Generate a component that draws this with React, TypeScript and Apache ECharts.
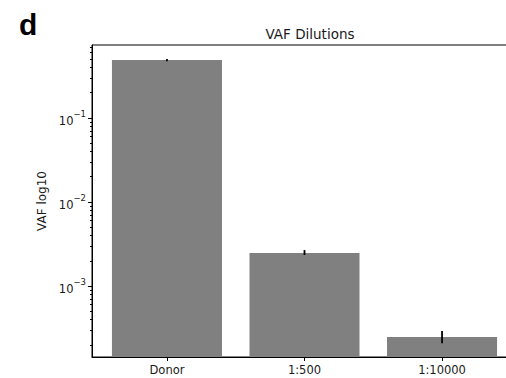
import React, { useEffect, useRef } from 'react';
import * as echarts from 'echarts';

const categories = ['Donor', '1:500', '1:10000'];
const vafValues = [0.49, 0.00247, 0.000247];
const errLow = [0.475, 0.00234, 0.000209];
const errHigh = [0.505, 0.00268, 0.000291];
const xTickValues = [0, 1, 2];
const yMajorTicks = [1e-3, 1e-2, 1e-1];
const yMinorTicks = [
  2e-4, 3e-4, 4e-4, 5e-4, 6e-4, 7e-4, 8e-4, 9e-4,
  2e-3, 3e-3, 4e-3, 5e-3, 6e-3, 7e-3, 8e-3, 9e-3,
  2e-2, 3e-2, 4e-2, 5e-2, 6e-2, 7e-2, 8e-2, 9e-2,
  2e-1, 3e-1, 4e-1, 5e-1, 6e-1, 7e-1,
];
const yMin = 1.43e-4;
const yMax = 0.74;
const xMin = -0.545;
const xMax = 2.545;
const barWidthUnits = 0.8;

const powLabel = (v: number) => {
  const e = Math.round(Math.log10(v));
  return '{b|10}{s|' + (e < 0 ? '\u2212' : '') + Math.abs(e) + '}';
};

const FONT = 'DejaVu Sans';
const TXT = '#1a1a1a';

export default function App() {
  const ref = useRef<HTMLDivElement>(null);
  useEffect(() => {
    if (!ref.current) return;
    const chart = echarts.init(ref.current, null, { renderer: 'svg' });
    chart.setOption({
      animation: false,
      backgroundColor: '#fff',
      title: [
        {
          text: 'VAF Dilutions',
          left: 305,
          top: 22,
          textAlign: 'center',
          textStyle: { fontFamily: FONT, fontSize: 13.5, fontWeight: 'normal', color: TXT },
        },
        {
          text: 'd',
          left: 14,
          top: 4,
          textStyle: { fontFamily: 'Liberation Sans', fontSize: 30, fontWeight: 'bold', color: '#000' },
        },
      ],
      grid: {
        left: 92,
        top: 45,
        width: 425,
        height: 312,
        outerBoundsMode: 'none',
        containLabel: false,
        show: true,
        borderColor: '#000',
        borderWidth: 1,
        backgroundColor: 'transparent',
      },
      xAxis: {
        type: 'value',
        min: xMin,
        max: xMax,
        splitLine: { show: false },
        axisLine: { show: true, onZero: false, lineStyle: { color: '#000', width: 1 } },
        axisTick: { show: true, customValues: xTickValues, length: 4, lineStyle: { color: '#000' } },
        axisLabel: {
          show: true,
          customValues: xTickValues,
          formatter: (v: number) => categories[Math.round(v)] ?? '',
          fontFamily: FONT,
          fontSize: 11.5,
          color: TXT,
          margin: 7,
        },
      },
      yAxis: [
        {
          type: 'log',
          logBase: 10,
          min: yMin,
          max: yMax,
          position: 'left',
          name: 'VAF log10',
          nameLocation: 'middle',
          nameRotate: 90,
          nameGap: 44,
          nameTextStyle: { fontFamily: FONT, fontSize: 12, color: TXT },
          splitLine: { show: false },
          axisLine: { show: true, onZero: false, lineStyle: { color: '#000', width: 1 } },
          axisTick: { show: true, customValues: yMajorTicks, length: 4, lineStyle: { color: '#000' } },
          axisLabel: {
            show: true,
            customValues: yMajorTicks,
            formatter: (v: number) => powLabel(v),
            fontFamily: FONT,
            color: TXT,
            margin: 6,
            rich: {
              b: { fontFamily: FONT, fontSize: 11.5, color: TXT, verticalAlign: 'bottom', lineHeight: 17 },
              s: { fontFamily: FONT, fontSize: 8.5, color: TXT, verticalAlign: 'top', lineHeight: 17 },
            },
          },
        },
        {
          type: 'log',
          logBase: 10,
          min: yMin,
          max: yMax,
          position: 'left',
          splitLine: { show: false },
          axisLine: { show: false, onZero: false },
          axisTick: { show: true, customValues: yMinorTicks, length: 2, lineStyle: { color: '#000' } },
          axisLabel: { show: false },
        },
      ],
      series: [
        {
          type: 'custom',
          yAxisIndex: 0,
          clip: true,
          data: vafValues.map((v, i) => [xTickValues[i], v]),
          encode: { x: 0, y: 1 },
          renderItem: (params: any, api: any) => {
            const x = api.value(0);
            const v = api.value(1);
            const pA = api.coord([x - barWidthUnits / 2, v]);
            const pB = api.coord([x + barWidthUnits / 2, yMin]);
            return {
              type: 'rect',
              shape: { x: pA[0], y: pA[1], width: pB[0] - pA[0], height: pB[1] - pA[1] },
              style: { fill: '#808080' },
            };
          },
          z: 2,
        },
        {
          type: 'custom',
          yAxisIndex: 0,
          data: vafValues.map((_, i) => [xTickValues[i], errLow[i], errHigh[i]]),
          encode: { x: 0, y: [1, 2] },
          renderItem: (params: any, api: any) => {
            const p1 = api.coord([api.value(0), api.value(1)]);
            const p2 = api.coord([api.value(0), api.value(2)]);
            return {
              type: 'line',
              shape: { x1: p1[0], y1: p1[1], x2: p2[0], y2: p2[1] },
              style: { stroke: '#000', lineWidth: 1.8 },
            };
          },
          z: 5,
        },
      ],
    });
    return () => chart.dispose();
  }, []);
  return (
    <div
      ref={ref}
      style={{ position: 'fixed', left: 0, top: 0, width: 506, height: 378 }}
    />
  );
}
